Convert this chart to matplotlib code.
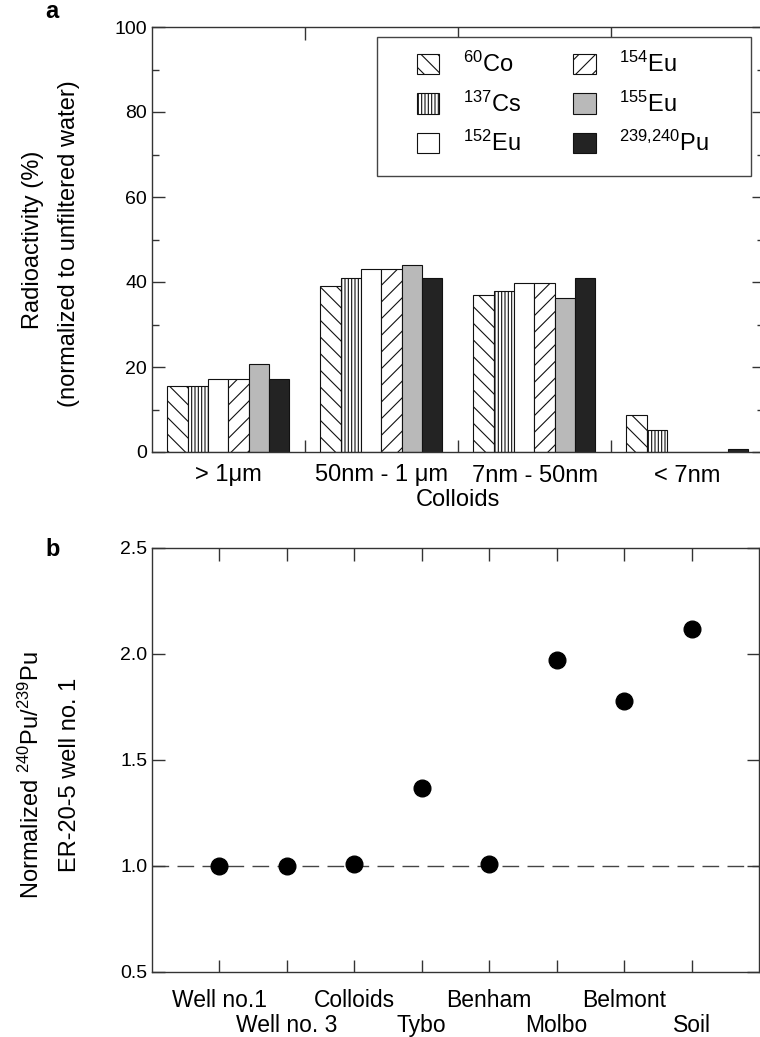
import matplotlib
matplotlib.use('Agg')
import matplotlib.pyplot as plt
from matplotlib.patches import Rectangle
import numpy as np

plt.rcParams['font.family'] = ['Liberation Sans', 'DejaVu Sans']
plt.rcParams['mathtext.fontset'] = 'custom'
plt.rcParams['mathtext.rm'] = 'Liberation Sans'
plt.rcParams['mathtext.it'] = 'Liberation Sans:italic'
plt.rcParams['hatch.linewidth'] = 0.8

# ---------------- data ----------------
size_classes = ['> 1μm', '50nm - 1 μm', '7nm - 50nm', '< 7nm']
isotopes = [r'$^{60}$Co', r'$^{137}$Cs', r'$^{152}$Eu',
            r'$^{154}$Eu', r'$^{155}$Eu', r'$^{239{,}240}$Pu']
co60 = [15.6, 39.1, 36.9, 8.8]
cs137 = [15.6, 41.0, 37.9, 5.2]
eu152 = [17.1, 43.0, 39.8, 0.0]
eu154 = [17.1, 43.0, 39.8, 0.0]
eu155 = [20.7, 44.0, 36.2, 0.0]
pu239240 = [17.1, 41.0, 41.0, 0.6]

sites = ['Well no.1', 'Well no. 3', 'Colloids', 'Tybo',
         'Benham', 'Molbo', 'Belmont', 'Soil']
pu_ratio = [1.00, 1.00, 1.01, 1.37, 1.01, 1.97, 1.78, 2.12]

# ---------------- styles ----------------
hatches = ['\\\\', '|||||', '', '//', '', '']
faces = ['white', 'white', 'white', 'white', '#b9b9b9', '#232323']
spine_col = '#333333'
LAB = 17      # label / legend font size
TICK = 14     # numeric tick label size

fig = plt.figure(figsize=(7.6, 10.37), dpi=100)
W, H = 760, 1037

def ax_rect(x0, y0, x1, y1):
    return [x0 / W, 1 - y1 / H, (x1 - x0) / W, (y1 - y0) / H]

# ---------------- panel a ----------------
axa = fig.add_axes(ax_rect(152, 27, 764, 452))
series = [co60, cs137, eu152, eu154, eu155, pu239240]
bw = 0.133
groups = np.arange(len(size_classes))
handles = []
for k, vals in enumerate(series):
    b = axa.bar(groups + 0.1 + k * bw, vals, width=bw, align='edge',
                facecolor=faces[k], edgecolor='#111111', hatch=hatches[k],
                linewidth=0.8, label=isotopes[k])
    handles.append(b)

axa.set_xlim(0, 4)
axa.set_ylim(0, 100)
axa.set_xticks([1, 2, 3])
axa.set_xticklabels([])
axa.set_xticks(groups + 0.5, minor=True)
axa.set_xticklabels(size_classes, minor=True, fontsize=LAB)
axa.tick_params(axis='x', which='major', direction='in', length=9,
                top=True, bottom=True, width=1, color=spine_col)
axa.tick_params(axis='x', which='minor', length=0, pad=9)
axa.set_yticks([0, 20, 40, 60, 80, 100])
axa.set_yticks([10, 30, 50, 70, 90], minor=True)
axa.tick_params(axis='y', which='major', direction='in', length=9,
                left=True, right=True, labelsize=TICK, width=1, color=spine_col)
axa.tick_params(axis='y', which='minor', direction='in', length=5,
                left=True, right=True, width=1, color=spine_col)
axa.set_xlabel('Colloids', fontsize=LAB, labelpad=2)
for s in axa.spines.values():
    s.set_color(spine_col)
    s.set_linewidth(1)

# legend frame + content
x0, x1 = (377 - 152) / 612, (751 - 152) / 612
y0, y1 = (452 - 176) / 425, (452 - 37) / 425
axa.add_patch(Rectangle((x0, y0), x1 - x0, y1 - y0, transform=axa.transAxes,
                        facecolor='white', edgecolor='#444444', linewidth=1,
                        zorder=5))
leg = axa.legend(handles=handles, ncol=2, frameon=False, fontsize=LAB,
                 loc='upper left', bbox_to_anchor=((417 - 152) / 612, (452 - 52) / 425),
                 borderpad=0, borderaxespad=0, handlelength=0.95, handleheight=0.95,
                 handletextpad=1.0, labelspacing=0.6, columnspacing=2.2)
leg.set_zorder(6)

fig.text(45 / W, 1 - 12 / H, 'a', fontsize=17, fontweight='bold',
         ha='left', va='center')
fig.text(33 / W, 1 - 240 / H, 'Radioactivity (%)', rotation=90,
         fontsize=LAB, ha='center', va='center')
fig.text(69 / W, 1 - 244 / H, '(normalized to unfiltered water)', rotation=90,
         fontsize=LAB, ha='center', va='center')

# ---------------- panel b ----------------
axb = fig.add_axes(ax_rect(152, 548, 759, 972))
xpos = np.arange(1, len(sites) + 1)
axb.axhline(1.0, color='#444444', linewidth=1, linestyle=(0, (12, 6)), zorder=1)
axb.plot(xpos, pu_ratio, 'o', color='black', markersize=12, zorder=3)
axb.set_xlim(0, 9)
axb.set_ylim(0.5, 2.5)
axb.set_xticks(xpos)
axb.set_xticklabels(sites, fontsize=16.5)
for i, t in enumerate(axb.xaxis.get_major_ticks()):
    t.set_pad(12 if i % 2 == 0 else 30)
axb.tick_params(axis='x', direction='in', length=9, top=True, bottom=True,
                width=1, color=spine_col)
axb.set_yticks([0.5, 1.0, 1.5, 2.0, 2.5])
axb.set_yticklabels(['0.5', '1.0', '1.5', '2.0', '2.5'])
axb.tick_params(axis='y', direction='in', length=9, left=True, right=True,
                labelsize=TICK, width=1, color=spine_col)
for s in axb.spines.values():
    s.set_color(spine_col)
    s.set_linewidth(1)

fig.text(45 / W, 1 - 550 / H, 'b', fontsize=17, fontweight='bold',
         ha='left', va='center')
fig.text(31 / W, 1 - 775 / H, r'Normalized $^{240}$Pu/$^{239}$Pu', rotation=90,
         fontsize=LAB, ha='center', va='center')
fig.text(70 / W, 1 - 775 / H, 'ER-20-5 well no. 1', rotation=90,
         fontsize=LAB, ha='center', va='center')

fig.savefig('out.png', dpi=100)
